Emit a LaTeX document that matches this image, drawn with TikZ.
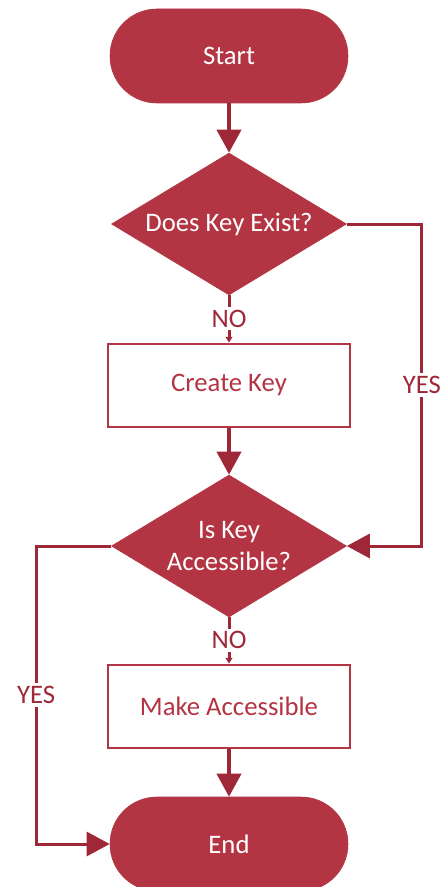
\documentclass[tikz,border=0pt]{standalone}
\usepackage{fontspec}
\setmainfont{Carlito}
\usetikzlibrary{shapes.geometric, arrows.meta, positioning, calc}
\definecolor{keyred}{RGB}{179,52,66}
\definecolor{keydark}{RGB}{158,40,56}
\tikzstyle{terminal} = [rectangle, rounded corners=1.17cm, minimum width=5.95cm, minimum height=2.35cm, text centered, fill=keyred, draw=keyred, text=white]
\tikzstyle{decision} = [diamond, aspect=1.65, inner sep=0pt, minimum width=5.875cm, minimum height=3.55cm, text centered, align=center, fill=keyred, draw=keyred, text=white]
\tikzstyle{process} = [rectangle, minimum width=6.05cm, minimum height=2.075cm, text centered, draw=keyred, line width=0.05cm, text=keyred]
\tikzstyle{arrow} = [line width=0.1cm, draw=keydark, -{Triangle[width=0.6cm, length=0.575cm]}]
\tikzstyle{yesarrow} = [line width=0.075cm, draw=keydark, -{Triangle[width=0.6cm, length=0.575cm]}]
\tikzstyle{smallarrow} = [line width=0.075cm, draw=keydark, -{Triangle[width=0.17cm, length=0.14cm]}]
\tikzstyle{answer} = [fill=white, text=keydark, font=\fontsize{19}{22}\selectfont, inner sep=2pt]

\begin{document}
\begin{tikzpicture}[node distance=4.025cm, font=\fontsize{19}{23}\selectfont]
\useasboundingbox (0,0) rectangle (11.025,-22.175);

\node (start) [terminal] at (5.725,-1.4) {Start};

\node (exists) [decision, below of=start, yshift=-0.175cm] {Does Key Exist?};

\node (create) [process, below of=exists] {Create Key};

\node (access) [decision, below of=create] {Is Key\\Accessible?};

\node (make) [process, below of=access, yshift=0.025cm] {Make Accessible};

\node (end) [terminal, below of=make, yshift=0.575cm] {End};

\coordinate (yesright) at ($(exists.east)+(1.875,0)$);
\coordinate (yesleft) at ($(access.west)+(-1.875,0)$);

\draw[arrow] (start) -- (exists);
\draw[smallarrow] (exists) -- node[answer] {NO} (create);
\draw[arrow] (create) -- (access);
\draw[yesarrow] (exists.east) -| (yesright) |- node[answer, pos=0.25] {YES} (access.east);

\draw[smallarrow] (access) -- node[answer] {NO} (make);
\draw[arrow] (make) -- (end);
\draw[yesarrow] (access.west) -| (yesleft) |- node[answer, pos=0.25] {YES} (end.west);

\end{tikzpicture}
\end{document}
